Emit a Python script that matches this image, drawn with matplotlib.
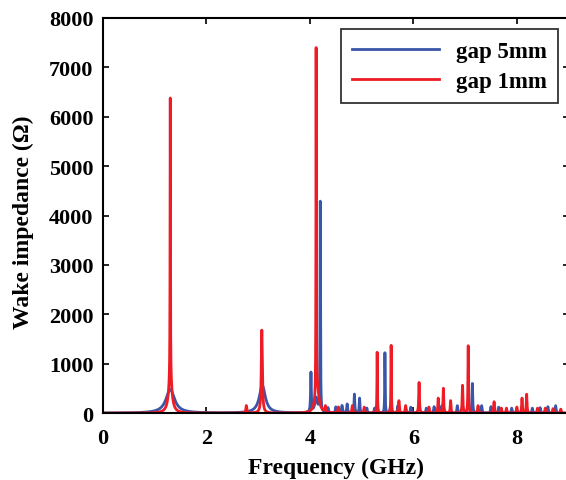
"""Wake impedance spectrum for two gap sizes."""

import matplotlib
matplotlib.use("Agg")
import matplotlib.pyplot as plt
import numpy as np

# resonant modes: frequency (GHz), peak (Ohm), half width (GHz)
blue_freq = [1.30, 3.08, 4.02, 4.12, 4.20, 4.35, 4.50, 4.62, 4.72, 4.86, 4.96, 5.10, 5.25,
             5.45, 5.56, 5.70, 5.95, 6.25, 6.40, 6.55, 6.85, 7.14, 7.32, 7.50, 7.65, 7.90,
             8.30, 8.45, 8.60, 8.75]
blue_peak = [480, 560, 800, 300, 4250, 100, 120, 150, 180, 380, 300, 100, 100,
             1220, 150, 150, 120, 100, 130, 150, 150, 600, 150, 130, 120, 100,
             100, 110, 130, 150]
blue_width = [0.10, 0.07, 0.008, 0.03, 0.005, 0.01, 0.01, 0.01, 0.01, 0.008, 0.008, 0.01, 0.01,
              0.005, 0.01, 0.01, 0.01, 0.01, 0.01, 0.01, 0.01, 0.008, 0.01, 0.01, 0.01, 0.01,
              0.01, 0.01, 0.01, 0.01]

red_freq = [1.30, 1.30, 2.77, 3.07, 4.12, 4.14, 4.30, 4.55, 4.82, 5.05, 5.30, 5.57, 5.72,
            5.85, 6.11, 6.30, 6.48, 6.58, 6.72, 6.95, 7.06, 7.25, 7.56, 7.70, 7.80, 8.00,
            8.10, 8.19, 8.40, 8.55, 8.70, 8.85]
red_peak = [5730, 650, 150, 1680, 7000, 500, 120, 120, 150, 120, 1230, 1370, 250,
            150, 620, 120, 300, 500, 250, 560, 1360, 150, 230, 100, 100, 120,
            300, 380, 100, 100, 90, 80]
red_width = [0.004, 0.04, 0.01, 0.012, 0.004, 0.04, 0.01, 0.01, 0.01, 0.01, 0.005, 0.005, 0.01,
             0.01, 0.008, 0.01, 0.008, 0.008, 0.008, 0.008, 0.006, 0.01, 0.01, 0.01, 0.01, 0.01,
             0.008, 0.008, 0.01, 0.01, 0.01, 0.01]

x_ticks = [0, 2, 4, 6, 8]
y_ticks = [0, 1000, 2000, 3000, 4000, 5000, 6000, 7000, 8000]

BLUE = "#3a56a8"
RED = "#ee1c25"


def spectrum(freq, f0, h, w):
    """Sum of resonance lines."""
    z = np.zeros_like(freq)
    for c, a, g in zip(f0, h, w):
        z += a / (1 + ((freq - c) / g) ** 2)
    return z


plt.rcParams["font.family"] = ["Liberation Serif", "DejaVu Serif"]
plt.rcParams["font.weight"] = "bold"

freq = np.linspace(0, 9, 18001)
blue_z = spectrum(freq, blue_freq, blue_peak, blue_width)
red_z = spectrum(freq, red_freq, red_peak, red_width)

fig = plt.figure(figsize=(5.66, 4.81), dpi=100)
ax = fig.add_axes([0.182, 0.139, 0.8225, 0.8215])
ax.plot(freq, blue_z, color=BLUE, lw=2.0, label="gap 5mm")
ax.plot(freq, red_z, color=RED, lw=2.0, label="gap 1mm")

ax.set_xlim(0, 9)
ax.set_ylim(0, 8000)
ax.set_xticks(x_ticks)
ax.set_yticks(y_ticks)
ax.tick_params(direction="in", length=4, width=1.2, labelsize=16, top=True, right=True)
ax.tick_params(axis="x", pad=11)
ax.tick_params(axis="y", pad=7)
for label in ax.get_xticklabels() + ax.get_yticklabels():
    label.set_fontweight("bold")
for side in ax.spines.values():
    side.set_linewidth(1.5)

ax.set_xlabel("Frequency (GHz)", fontsize=17, fontweight="bold", labelpad=6)
ax.set_ylabel("Wake impedance (\u03a9)", fontsize=17, fontweight="bold")
ax.yaxis.set_label_coords(-0.149, 0.485)

leg = ax.legend(loc="upper right", bbox_to_anchor=(0.977, 0.972), borderaxespad=0,
                frameon=True, fancybox=False, edgecolor="black", handlelength=3.8,
                borderpad=0.5, labelspacing=0.4, handletextpad=0.7,
                prop={"weight": "bold", "size": 16.5})
leg.get_frame().set_linewidth(1.3)

fig.savefig("out.png", dpi=100)
